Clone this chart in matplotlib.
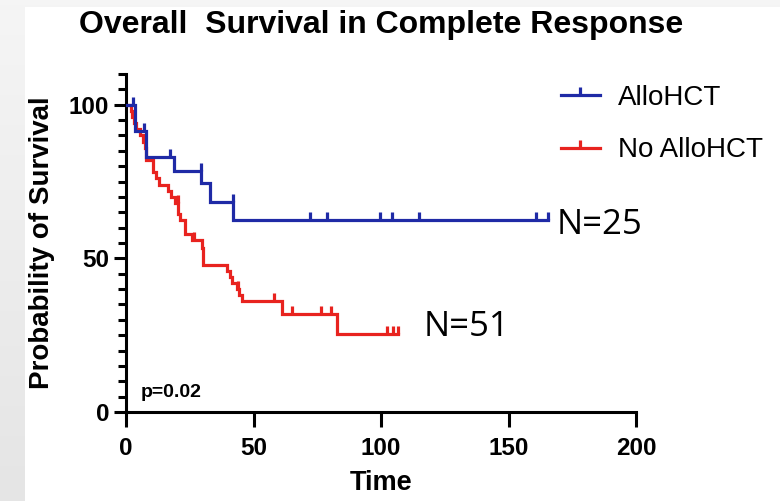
import numpy as np
import matplotlib
matplotlib.use('Agg')
import matplotlib.pyplot as plt
from matplotlib.path import Path
from matplotlib.lines import Line2D
from matplotlib.patches import Rectangle

# Kaplan-Meier steps (time, % surviving) read per group
allo_t = [0, 3.5, 8.0, 18.8, 29.6, 32.9, 42.0, 165.5]
allo_s = [100, 91.5, 83, 78.5, 74.5, 68.5, 62.5, 62.5]
allo_cens = [2.9, 7.2, 17.2, 29.4, 41.8, 72.2, 78.9, 99.6, 104.4, 115.0, 160.8, 165.5]

noallo_t = [0, 1.8, 2.5, 3.0, 4.0, 5.3, 6.6, 7.3, 7.8, 10.6, 11.9, 13.0, 16.5,
            17.8, 19.2, 20.5, 21.0, 23.1, 25.8, 29.7, 30.3, 39.5, 40.8, 41.5,
            43.5, 44.5, 45.4, 61.0, 82.9, 106.8]
noallo_s = [100, 98, 96, 94, 92, 90, 88, 86, 82, 78, 76, 74, 72,
            70, 68, 64.5, 62.5, 58, 56, 53.5, 48, 46, 44, 42,
            40, 38, 36, 32, 25.5, 25.5]
noallo_cens = [20.4, 26.6, 44.0, 58.1, 65.2, 76.3, 80.4, 102.2, 104.8, 106.8]

groups = ['AlloHCT', 'No AlloHCT']
colors = ['#1f2aa6', '#e8231f']
n_labels = ['N=25', 'N=51']

xticks = [0, 50, 100, 150, 200]
yticks = [0, 50, 100]


def level_at(t, steps_t, steps_s):
    idx = np.searchsorted(steps_t, t, side='right') - 1
    return np.asarray(steps_s)[idx]


# little upward tick used for censored patients
tick = Path([(0, 0), (0, 1)], [Path.MOVETO, Path.LINETO])

fig = plt.figure(figsize=(7.8, 5.01), dpi=100)

# grey frame around the white slide area
bg = fig.add_axes([0, 0, 1, 1], zorder=-10)
grad = np.linspace(0, 1, 100).reshape(-1, 1)
bg.imshow(grad, aspect='auto', cmap=matplotlib.colors.LinearSegmentedColormap.from_list(
    'g', ['#f5f5f5', '#e5e5e5']), extent=[0, 1, 0, 1])
bg.add_patch(Rectangle((25 / 780, 0), 1, 1 - 7 / 501, facecolor='white',
                       edgecolor='none'))
bg.set_xlim(0, 1)
bg.set_ylim(0, 1)
bg.axis('off')

ax = fig.add_axes([126 / 780, 89 / 501, 510 / 780, 338 / 501])
ax.set_facecolor('none')

lw = 2.3
series = [(allo_t, allo_s, allo_cens), (noallo_t, noallo_s, noallo_cens)]
handles = []
for (st, ss, cens), c, name in zip(series, colors, groups):
    z = 3 if c == colors[0] else 2
    ax.step(st, ss, where='post', color=c, lw=lw, zorder=z,
            solid_joinstyle='miter')
    ax.plot(cens, level_at(cens, st, ss), linestyle='none', marker=tick,
            markersize=11, markeredgewidth=lw, color=c, zorder=z)
    handles.append(Line2D([0], [0], color=c, lw=lw, marker=tick, markersize=11,
                          markeredgewidth=lw, label=name))

ax.set_xlim(0, 200)
ax.set_ylim(0, 110)
ax.spines['top'].set_visible(False)
ax.spines['right'].set_visible(False)
for s in ['left', 'bottom']:
    ax.spines[s].set_linewidth(2.2)
ax.set_xticks(xticks)
ax.set_yticks(yticks)
ax.set_yticks(np.arange(0, 111, 5), minor=True)
ax.tick_params(axis='x', length=11, width=2.2, pad=7, labelsize=17.5)
ax.tick_params(axis='y', which='major', length=9, width=2.2, pad=3, labelsize=17.5)
ax.tick_params(axis='y', which='minor', length=5.5, width=2.2)
for lab in ax.get_xticklabels() + ax.get_yticklabels():
    lab.set_fontfamily('Liberation Sans')
    lab.set_fontweight('bold')

ax.set_xlabel('Time', fontsize=19.5, fontweight='bold', family='Liberation Sans',
              labelpad=7)
ax.set_ylabel('Probability of Survival', fontsize=20, fontweight='bold',
              family='Liberation Sans', labelpad=10)

fig.text(0.488, 1 - 33 / 501, 'Overall  Survival in Complete Response',
         ha='center', va='baseline', fontsize=23, fontweight='bold',
         family='Liberation Sans')

fig.text(141 / 780, 1 - 397 / 501, 'p=0.02', fontsize=14,
         fontweight='bold', family='Liberation Sans', va='baseline')

leg = ax.legend(handles=handles, loc='upper left',
                bbox_to_anchor=(561 / 780, 1 - 85 / 501),
                bbox_transform=fig.transFigure, frameon=False,
                prop={'family': 'Liberation Sans', 'size': 20},
                handlelength=1.4, handletextpad=0.65, labelspacing=0.95,
                borderpad=0, borderaxespad=0, numpoints=1)

# group sizes next to the end of each curve
fig.text(557 / 780, 1 - 234 / 501, n_labels[0], fontsize=25, family='Open Sans',
         va='baseline')
fig.text(424 / 780, 1 - 336 / 501, n_labels[1], fontsize=25, family='Open Sans',
         va='baseline')

fig.savefig('out.png', dpi=100)
